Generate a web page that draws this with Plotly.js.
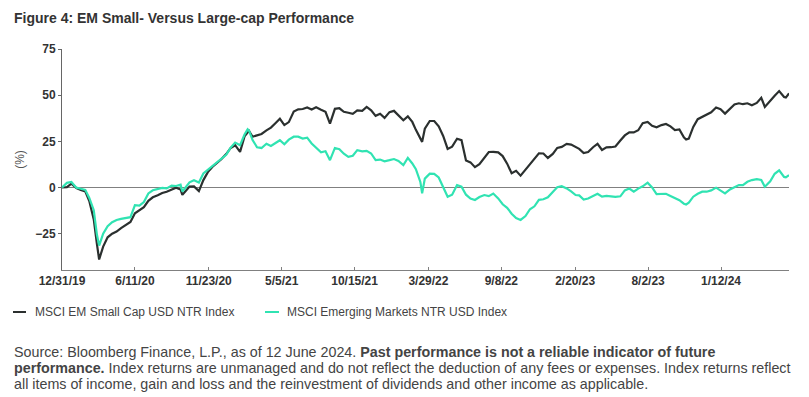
<!DOCTYPE html>
<html>
<head>
<meta charset="utf-8">
<script src="https://cdn.plot.ly/plotly-3.0.1.min.js"></script>
<style>
  html, body { margin: 0; padding: 0; background: #fff; }
  #chart { width: 809px; height: 397px; }
</style>
</head>
<body>
<div id="chart"></div>
<script>
// ---- Data (cumulative performance, %) ----
const dates = [
 '2019-12-31','2020-01-11','2020-01-21','2020-02-01','2020-02-11','2020-02-21','2020-03-01','2020-03-11','2020-03-18','2020-03-23',
 '2020-04-01','2020-04-11','2020-04-21','2020-05-01','2020-05-11','2020-05-21','2020-06-01','2020-06-11','2020-06-21','2020-07-01',
 '2020-07-11','2020-07-21','2020-08-01','2020-08-11','2020-08-21','2020-09-01','2020-09-11','2020-09-21','2020-09-25','2020-10-01',
 '2020-10-11','2020-10-21','2020-11-01','2020-11-11','2020-11-21','2020-12-01','2020-12-11','2020-12-21','2021-01-01','2021-01-11',
 '2021-01-21','2021-02-01','2021-02-11','2021-02-18','2021-02-21','2021-03-01','2021-03-11','2021-03-21','2021-04-01','2021-04-11',
 '2021-04-21','2021-05-01','2021-05-11','2021-05-21','2021-06-01','2021-06-11','2021-06-21','2021-07-01','2021-07-11','2021-07-21',
 '2021-08-01','2021-08-11','2021-08-21','2021-09-01','2021-09-11','2021-09-21','2021-10-01','2021-10-11','2021-10-21','2021-11-01',
 '2021-11-11','2021-11-21','2021-12-01','2021-12-11','2021-12-21','2022-01-01','2022-01-11','2022-01-21','2022-02-01','2022-02-11',
 '2022-02-21','2022-03-01','2022-03-11','2022-03-15','2022-03-21','2022-04-01','2022-04-11','2022-04-21','2022-05-01','2022-05-11',
 '2022-05-21','2022-06-01','2022-06-11','2022-06-21','2022-07-01','2022-07-11','2022-07-21','2022-08-01','2022-08-11','2022-08-21',
 '2022-09-01','2022-09-11','2022-09-21','2022-10-01','2022-10-11','2022-10-21','2022-11-01','2022-11-11','2022-11-21','2022-12-01',
 '2022-12-11','2022-12-21','2023-01-01','2023-01-11','2023-01-21','2023-02-01','2023-02-11','2023-02-21','2023-03-01','2023-03-11',
 '2023-03-21','2023-04-01','2023-04-11','2023-04-21','2023-05-01','2023-05-11','2023-05-21','2023-06-01','2023-06-11','2023-06-21',
 '2023-07-01','2023-07-11','2023-07-21','2023-08-01','2023-08-11','2023-08-21','2023-09-01','2023-09-11','2023-09-21','2023-10-01',
 '2023-10-11','2023-10-21','2023-10-26','2023-11-01','2023-11-11','2023-11-21','2023-12-01','2023-12-11','2023-12-21','2024-01-01',
 '2024-01-11','2024-01-21','2024-02-01','2024-02-11','2024-02-21','2024-03-01','2024-03-11','2024-03-21','2024-04-01','2024-04-11',
 '2024-04-19','2024-05-01','2024-05-11','2024-05-21','2024-06-01','2024-06-05','2024-06-12'
];
const smallCap = [
 0,0.2,2.1,-0.3,-1.4,-2.1,-7.3,-17.3,-30.5,-39.0,
 -32.0,-27.0,-25.0,-23.9,-22.0,-20.6,-18.7,-14.0,-12.5,-10.7,
 -7.2,-5.3,-4.2,-3.0,-2.3,-1.3,-0.1,-1.1,-4.0,-2.3,
 0.5,0.6,-2.0,4.0,8.3,11.1,13.1,15.3,18.1,21.4,
 22.9,19.3,27.7,30.3,30.7,27.5,28.4,29.0,30.9,32.4,
 34.8,37.2,33.8,35.4,41.1,42.3,42.5,43.3,42.2,43.4,
 42.1,41.0,34.6,42.6,42.9,41.0,40.5,39.9,41.7,41.5,
 43.6,41.8,38.8,39.9,37.7,40.8,41.5,39.1,36.4,38.5,
 35.5,31.2,26.5,24.7,31.8,36.0,36.0,33.1,27.9,20.9,
 22.1,26.4,25.6,14.6,13.6,11.0,12.6,16.2,19.2,19.3,
 19.0,17.0,12.9,7.7,9.0,6.4,9.8,12.9,15.4,18.5,
 18.4,16.0,18.2,21.4,22.0,23.6,23.2,21.9,20.9,18.6,
 19.2,21.8,23.6,20.3,21.7,21.8,22.2,25.4,28.2,29.9,
 29.8,31.0,34.8,35.5,33.4,32.6,33.8,34.4,33.1,31.1,
 31.4,27.2,26.0,26.5,32.8,37.0,38.3,39.5,40.7,43.3,
 42.4,40.0,42.4,45.0,45.6,45.1,45.6,44.5,45.8,48.6,
 43.6,47.2,49.7,52.2,49.0,48.7,51.0
];
const emerging = [
 0,2.5,3.0,-0.1,-0.7,-1.3,-5.7,-12.3,-25.5,-31.5,
 -25.0,-21.0,-18.8,-17.6,-17.0,-16.4,-16.1,-9.6,-9.8,-7.9,
 -3.2,-1.5,-0.9,-0.2,-0.5,1.0,0.8,1.5,-2.2,-0.5,
 2.8,3.9,2.7,7.6,9.6,11.3,13.3,15.1,17.7,21.6,
 24.3,22.9,28.7,31.5,30.8,25.7,21.8,21.4,23.7,22.5,
 24.3,25.6,23.4,25.9,27.5,27.5,26.5,27.0,23.8,21.4,
 19.0,19.6,14.8,21.4,20.7,18.3,16.6,17.2,20.2,19.6,
 19.8,18.4,14.8,15.1,14.2,14.8,15.4,14.4,12.1,16.0,
 13.0,9.9,3.0,-3.2,4.8,7.5,7.4,5.4,0.1,-5.0,
 -3.9,1.3,0.4,-3.9,-6.0,-6.8,-5.2,-4.1,-4.7,-3.3,
 -5.9,-9.1,-11.0,-14.2,-16.6,-17.6,-15.5,-11.8,-10.2,-6.7,
 -6.4,-5.3,-2.4,0.1,0.7,-0.5,-2.1,-4.1,-4.3,-6.6,
 -6.0,-4.7,-3.4,-5.0,-4.6,-4.8,-5.1,-4.8,-1.6,-0.6,
 -2.3,-0.6,0.6,2.6,0.0,-3.6,-3.3,-3.4,-4.6,-5.9,
 -6.9,-8.8,-9.2,-8.2,-5.0,-3.4,-2.3,-2.3,-1.6,-0.1,
 -1.8,-3.2,-1.1,0.2,1.3,1.3,3.1,4.0,4.5,4.1,
 0.4,3.3,7.4,9.3,5.7,5.5,6.7
];
const seriesNames = ['MSCI EM Small Cap USD NTR Index', 'MSCI Emerging Markets NTR USD Index'];
const tickDates = ['2019-12-31','2020-06-11','2020-11-23','2021-05-05','2021-10-15','2022-03-29','2022-09-08','2023-02-20','2023-08-02','2024-01-12'];
const tickLabels = ['12/31/19','6/11/20','11/23/20','5/5/21','10/15/21','3/29/22','9/8/22','2/20/23','8/2/23','1/12/24'];
const yTicks = [-25, 0, 25, 50, 75];

// ---- Styling ----
const W = 809, H = 397;
const M = {l: 62, r: 20, t: 49, b: 127};
const PW = W - M.l - M.r, PH = H - M.t - M.b;
const px = p => (p - M.l) / PW;
const py = p => (H - M.b - p) / PH;
const FONT = 'Liberation Sans, Arial, Helvetica, sans-serif';
const DARK = '#2b302f';
const TEAL = '#30e3b2';

const traces = [
  {x: dates, y: smallCap, name: seriesNames[0], type: 'scatter', mode: 'lines',
   line: {color: DARK, width: 2.2}},
  {x: dates, y: emerging, name: seriesNames[1], type: 'scatter', mode: 'lines',
   line: {color: TEAL, width: 2.2}}
];

const annotations = [
  {text: '<b>Figure 4: EM Small- Versus Large-cap Performance</b>', x: px(12), y: py(18),
   font: {size: 14, color: '#333'}},
  {text: seriesNames[0], x: px(33), y: py(312), font: {size: 12, color: '#444'}},
  {text: seriesNames[1], x: px(285), y: py(312), font: {size: 12, color: '#444'}},
  {text: 'Source: Bloomberg Finance, L.P., as of 12 June 2024. <b>Past performance is not a reliable indicator of future</b>',
   x: px(12), y: py(352), font: {size: 14.3, color: '#444'}},
  {text: '<b>performance.</b> Index returns are unmanaged and do not reflect the deduction of any fees or expenses. Index returns reflect',
   x: px(12), y: py(368), font: {size: 14.3, color: '#444'}},
  {text: 'all items of income, gain and loss and the reinvestment of dividends and other income as applicable.',
   x: px(12), y: py(383.5), font: {size: 14.3, color: '#444'}}
].map(a => Object.assign({xref: 'paper', yref: 'paper', xanchor: 'left', yanchor: 'middle',
  showarrow: false, align: 'left'}, a));

const shapes = [
  {type: 'line', xref: 'paper', yref: 'paper', x0: px(13), x1: px(26), y0: py(312), y1: py(312),
   line: {color: DARK, width: 2}},
  {type: 'line', xref: 'paper', yref: 'paper', x0: px(265), x1: px(279), y0: py(312), y1: py(312),
   line: {color: TEAL, width: 2}}
];

const layout = {
  width: W, height: H,
  margin: M,
  paper_bgcolor: '#fff', plot_bgcolor: '#fff',
  font: {family: FONT, color: '#333'},
  showlegend: false,
  xaxis: {
    type: 'date', range: ['2019-12-31', '2024-06-12'],
    tickmode: 'array', tickvals: tickDates, ticktext: tickLabels,
    showgrid: false, zeroline: false,
    showline: true, linecolor: '#808080', linewidth: 1,
    ticks: 'inside', ticklen: 3, tickcolor: '#808080',
    tickfont: {size: 12, color: '#333', weight: 'bold'}
  },
  yaxis: {
    range: [-44.7, 75],
    tickmode: 'array', tickvals: yTicks,
    showgrid: false,
    zeroline: true, zerolinecolor: '#808080', zerolinewidth: 1,
    showline: true, linecolor: '#666', linewidth: 1,
    ticks: 'outside', ticklen: 3, tickcolor: '#666',
    tickfont: {size: 12, color: '#333', weight: 'bold'},
    title: {text: '(%)', font: {size: 12, color: '#555'}, standoff: 8}
  },
  annotations: annotations,
  shapes: shapes
};

Plotly.newPlot('chart', traces, layout, {staticPlot: true, displayModeBar: false});
</script>
</body>
</html>
